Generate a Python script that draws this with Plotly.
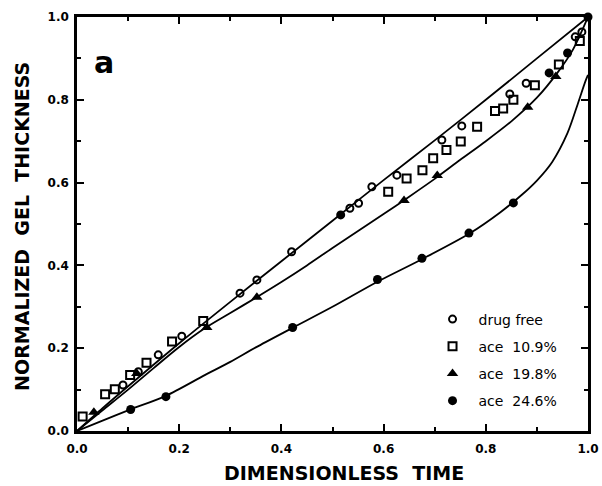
import plotly.graph_objects as go

# ---- data ----
drug_free_x = [0.090, 0.120, 0.159, 0.205, 0.319, 0.352, 0.420, 0.534, 0.551, 0.577,
               0.626, 0.714, 0.753, 0.847, 0.879, 0.975, 0.988]
drug_free_y = [0.111, 0.143, 0.184, 0.229, 0.333, 0.365, 0.433, 0.538, 0.550, 0.590,
               0.618, 0.703, 0.737, 0.814, 0.840, 0.952, 0.964]

ace109_x = [0.011, 0.055, 0.074, 0.104, 0.136, 0.186, 0.247, 0.609, 0.645, 0.676,
            0.697, 0.723, 0.751, 0.783, 0.818, 0.834, 0.854, 0.896, 0.943, 0.984]
ace109_y = [0.035, 0.089, 0.101, 0.135, 0.165, 0.216, 0.266, 0.578, 0.610, 0.630,
            0.659, 0.679, 0.699, 0.735, 0.773, 0.779, 0.800, 0.835, 0.885, 0.942]

ace198_x = [0.033, 0.117, 0.254, 0.352, 0.640, 0.705, 0.882, 0.937]
ace198_y = [0.045, 0.139, 0.250, 0.323, 0.557, 0.617, 0.782, 0.856]

ace246_x = [0.105, 0.174, 0.422, 0.516, 0.588, 0.675, 0.767, 0.854, 0.924, 0.960, 1.0]
ace246_y = [0.052, 0.083, 0.250, 0.522, 0.366, 0.417, 0.478, 0.551, 0.865, 0.913, 1.0]

# fitted curves
fit_free_x = [0, 0.05, 0.1, 0.2, 0.3, 0.4, 0.5, 0.6, 0.7, 0.8, 0.9, 1.0]
fit_free_y = [0, 0.055, 0.108, 0.212, 0.312, 0.410, 0.508, 0.606, 0.702, 0.800, 0.900, 1.0]

fit_198_x = [0, 0.05, 0.1, 0.15, 0.2, 0.25, 0.3, 0.35, 0.4, 0.45, 0.5, 0.55, 0.6,
             0.65, 0.7, 0.75, 0.8, 0.85, 0.9, 0.94, 0.97, 1.0]
fit_198_y = [0, 0.050, 0.100, 0.152, 0.203, 0.248, 0.285, 0.322, 0.360, 0.400, 0.442,
             0.483, 0.524, 0.566, 0.609, 0.655, 0.700, 0.748, 0.805, 0.865, 0.920, 1.0]

fit_246_x = [0, 0.05, 0.1, 0.174, 0.25, 0.3, 0.35, 0.42, 0.5, 0.587, 0.675, 0.768,
             0.828, 0.87, 0.9, 0.93, 0.96, 0.98, 0.995, 1.0]
fit_246_y = [0, 0.025, 0.050, 0.085, 0.135, 0.167, 0.202, 0.248, 0.300, 0.360, 0.415,
             0.477, 0.528, 0.570, 0.605, 0.650, 0.720, 0.790, 0.845, 0.860]

x_ticks = [0, 0.2, 0.4, 0.6, 0.8, 1.0]
x_tick_text = ["0.0", "0.2", "0.4", "0.6", "0.8", "1.0"]
y_ticks = [0, 0.2, 0.4, 0.6, 0.8, 1.0]
y_tick_text = ["0.0", "0.2", "0.4", "0.6", "0.8", "1.0"]

legend_names = ["drug free", "ace  10.9%", "ace  19.8%", "ace  24.6%"]

fig = go.Figure()

for fx, fy in [(fit_free_x, fit_free_y), (fit_198_x, fit_198_y), (fit_246_x, fit_246_y)]:
    fig.add_trace(go.Scatter(x=fx, y=fy, mode="lines",
                             line=dict(color="black", width=1.8, shape="spline", smoothing=0.8),
                             showlegend=False, hoverinfo="skip", cliponaxis=False))

fig.add_trace(go.Scatter(x=drug_free_x, y=drug_free_y, mode="markers", name=legend_names[0],
                         legendgroup="a",
                         marker=dict(symbol="circle-open", size=7, color="black", line=dict(width=2)),
                         cliponaxis=False))
fig.add_trace(go.Scatter(x=ace109_x, y=ace109_y, mode="markers", name=legend_names[1],
                         legendgroup="b",
                         marker=dict(symbol="square-open", size=8, color="black", line=dict(width=2)),
                         cliponaxis=False))
fig.add_trace(go.Scatter(x=ace198_x, y=ace198_y, mode="markers", name=legend_names[2],
                         legendgroup="c",
                         marker=dict(symbol="triangle-up", size=10, color="black"),
                         cliponaxis=False))
fig.add_trace(go.Scatter(x=ace246_x, y=ace246_y, mode="markers", name=legend_names[3],
                         legendgroup="d",
                         marker=dict(symbol="circle", size=9, color="black"),
                         cliponaxis=False))

axis_common = dict(
    showline=True, linecolor="black", linewidth=2.5, mirror="ticks",
    ticks="inside", ticklen=7, tickwidth=2, tickcolor="black",
    minor=dict(dtick=0.1, ticks="inside", ticklen=4, tickwidth=1.5, tickcolor="black"),
    showgrid=False, zeroline=False, automargin=False,
    tickfont=dict(family="DejaVu Sans", size=12, color="black", weight="bold"),
)

fig.update_xaxes(range=[0, 1], tickvals=x_ticks, ticktext=x_tick_text, ticklabelstandoff=5, **axis_common)
fig.update_yaxes(range=[0, 1], tickvals=y_ticks, ticktext=y_tick_text, ticklabelstandoff=3, **axis_common)

fig.update_layout(
    width=602, height=486, autosize=False,
    margin=dict(l=77, r=14, t=17, b=55, autoexpand=False),
    paper_bgcolor="white", plot_bgcolor="white",
    font=dict(family="DejaVu Sans", color="black"),
    legend=dict(x=0.684, y=0.308, xanchor="left", yanchor="top",
                font=dict(family="DejaVu Sans", size=14, color="black"),
                itemwidth=42,
                tracegroupgap=6, bgcolor="rgba(0,0,0,0)"),
    annotations=[
        dict(text="<b>DIMENSIONLESS  TIME</b>", x=0.5225, y=-0.101, xref="paper", yref="paper",
             xanchor="center", yanchor="middle", showarrow=False,
             font=dict(family="DejaVu Sans", size=19, color="black")),
        dict(text="<b>NORMALIZED  GEL  THICKNESS</b>", x=-0.108, y=0.495, xref="paper", yref="paper",
             xanchor="center", yanchor="middle", textangle=-90, showarrow=False,
             font=dict(family="DejaVu Sans", size=19, color="black")),
        dict(text="<b>a</b>", x=0.053, y=0.889, xref="paper", yref="paper",
             xanchor="center", yanchor="middle", showarrow=False,
             font=dict(family="DejaVu Sans", size=30, color="black")),
    ],
)

fig.write_html("out.html")
